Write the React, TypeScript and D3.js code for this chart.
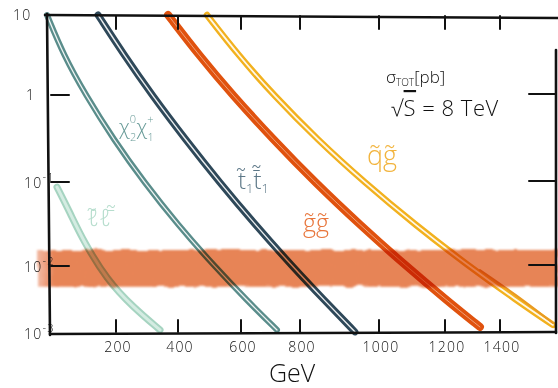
import React from 'react';
import * as d3 from 'd3';

const W = 558;
const H = 388;

// Mass axis (GeV): hand-placed breakpoints of the sketch
const massBreaks = [0, 200, 400, 600, 800, 1000, 1200, 1400, 1600];
const massTicks = [200, 400, 600, 800, 1000, 1200, 1400];

// Cross-section axis (pb), log
const sigmaBreaks = [0.001, 0.01, 0.1, 1, 10];
const sigmaTicks = [1, 0.1, 0.01];

// common cross-section samples (pb) shared by the curves below
const sigmaSteps = [10, 3.16, 1.0, 0.304, 0.1, 0.0308, 0.01, 0.00311];

// chi0_2 chi+_1
const chiMass = [0, 48, 112, 194, 290, 400, 515, 619, 722];
const chiSigma = [...sigmaSteps, 0.00111];

// stop pair
const stopMass = [148, 226, 316, 425, 531, 649, 773, 861, 939];
const stopSigma = [...sigmaSteps, 0.00104];

// gluino pair
const gluinoMass = [368, 466, 573, 711, 837, 952, 1082, 1205, 1327];
const gluinoSigma = [...sigmaSteps, 0.00123];

// squark-gluino
const sqglMass = [492, 591, 710, 845, 962, 1110, 1286, 1458, 1589];
const sqglSigma = [...sigmaSteps, 0.00132];
const sqglUpperMass = [1327, 1454, 1589];
const sqglUpperSigma = [0.00872, 0.00382, 0.00141];

// slepton pair
const slepMass = [29, 67, 104, 174, 255, 342];
const slepSigma = [0.087, 0.0428, 0.0204, 0.00618, 0.00244, 0.00111];

// sensitivity band around 10^-2 pb
const bandSigma = [0.0049, 0.0155];

const FONT = "'Open Sans', 'DejaVu Sans', sans-serif";

type Pt = [number, number];
const zip = (m: number[], s: number[]): Pt[] => m.map((v, i) => [v, s[i]]);

export default function App() {
  const x = d3.scaleLinear().domain(massBreaks).range([47, 116, 178, 241, 300, 379, 445, 500, 556]);
  const y = d3.scaleLog().domain(sigmaBreaks).range([333, 266, 182, 95, 15]);
  const line = d3
    .line<Pt>()
    .x((d) => x(d[0]))
    .y((d) => y(d[1]))
    .curve(d3.curveBasis);

  const double = (pts: Pt[], color: string, w: number, gap: number, gapOpacity = 0.9) => {
    const d = line(pts) || '';
    return (
      <g>
        <path d={d} fill="none" stroke={color} strokeWidth={w} strokeLinecap="round" />
        <path d={d} fill="none" stroke="#fff" strokeWidth={gap} strokeOpacity={gapOpacity} strokeLinecap="round" />
      </g>
    );
  };

  const xl = x(0);
  const xr = x(1600);
  const yt = y(10);
  const yb = y(0.001);

  return (
    <svg width={W} height={H} style={{ position: 'absolute', left: 0, top: 0, background: '#fff' }} fontFamily={FONT}>
      <defs>
        <filter id="rough" x="-5%" y="-40%" width="110%" height="180%">
          <feTurbulence type="fractalNoise" baseFrequency="0.09" numOctaves="2" seed="3" result="n" />
          <feDisplacementMap in="SourceGraphic" in2="n" scale="5" xChannelSelector="R" yChannelSelector="G" result="dm" />
          <feGaussianBlur in="dm" stdDeviation="1.2" />
        </filter>
        <linearGradient id="bandFade" x1="0" x2="1" y1="0" y2="0">
          <stop offset="0" stopColor="#e8825a" stopOpacity="0.55" />
          <stop offset="0.03" stopColor="#e4733f" stopOpacity="0.88" />
          <stop offset="1" stopColor="#e4733f" stopOpacity="0.88" />
        </linearGradient>
      </defs>

      {/* cross-section curves */}
      {(() => {
        const d = line(zip(slepMass, slepSigma)) || '';
        return (
          <g>
            <path d={d} fill="none" stroke="#a6d4c1" strokeWidth={7} strokeLinecap="round" />
            <path d={d} fill="none" stroke="#d4ece2" strokeWidth={3} strokeLinecap="round" />
          </g>
        );
      })()}
      {double(zip(chiMass, chiSigma), '#5a8d8b', 6, 1.3)}
      {double(zip(stopMass, stopSigma), '#2e4859', 7, 1.4)}
      {double(zip(gluinoMass, gluinoSigma), '#e0520e', 8, 1, 0.45)}
      {double(zip(sqglMass, sqglSigma), '#f2b11e', 6.5, 1.8)}
      <path d={line(zip(sqglUpperMass, sqglUpperSigma)) || ''} fill="none" stroke="#e99a22" strokeWidth={2} strokeLinecap="round" />

      {/* band at 10^-2 pb */}
      <rect
        x={38}
        y={y(bandSigma[1])}
        width={W - 38}
        height={y(bandSigma[0]) - y(bandSigma[1])}
        fill="url(#bandFade)"
        filter="url(#rough)"
        style={{ mixBlendMode: 'multiply' }}
      />

      {/* frame */}
      <g stroke="#111" strokeWidth={2.6} strokeLinecap="round" fill="none">
        <line x1={xl - 2} y1={yt} x2={W} y2={yt + 3} />
        <line x1={xl} y1={yt - 1} x2={xl + 3} y2={yb + 2} />
        <line x1={xl + 3} y1={yb + 1} x2={xr} y2={yb - 1} />
        <line x1={xr} y1={50} x2={xr} y2={yb} />
      </g>

      {/* ticks */}
      <g stroke="#111" strokeWidth={2} strokeLinecap="round">
        {sigmaTicks.map((s) => (
          <line key={'l' + s} x1={xl + 4} y1={y(s)} x2={xl + 22} y2={y(s)} />
        ))}
        {sigmaTicks.map((s) => (
          <line key={'r' + s} x1={xr - 27} y1={y(s) - 1} x2={xr} y2={y(s) - 1} />
        ))}
        {massTicks.map((m) => (
          <line key={'t' + m} x1={x(m)} y1={yt + 1} x2={x(m)} y2={yt + 14} />
        ))}
        {massTicks.map((m) => (
          <line key={'b' + m} x1={x(m)} y1={yb - 1} x2={x(m)} y2={yb - 13} />
        ))}
      </g>

      {/* tick labels */}
      <g fill="#111" fontSize={14} fontWeight={300} letterSpacing={1.2}>
        {massTicks.map((m) => (
          <text key={m} x={x(m) + 2} y={352} textAnchor="middle">
            {m}
          </text>
        ))}
        <text x={13} y={yt + 5}>10</text>
        <text x={26} y={y(1) + 5}>1</text>
        {[
          [0.1, '-1'],
          [0.01, '-2'],
          [0.001, '-3'],
        ].map(([s, e]) => (
          <text key={e as string} x={24} y={y(s as number) + 6}>
            10
            <tspan dy={-7} fontSize={11}>
              {e}
            </tspan>
          </text>
        ))}
      </g>
      <text x={292} y={382} textAnchor="middle" fontSize={25} fontWeight={300} fill="#111">
        GeV
      </text>

      {/* annotation */}
      <text x={386} y={83} fontSize={17} fontWeight={300} fill="#111">
        σ<tspan fontSize={10} dy={3}>TOT</tspan>
        <tspan dy={-3}>[pb]</tspan>
      </text>
      <text x={391} y={116} fontSize={22} fontWeight={300} fill="#111" letterSpacing={0.5}>
        √<tspan style={{ textDecoration: 'overline' }}>S</tspan> = 8 TeV
      </text>

      {/* process labels */}
      <text x={119} y={134} fontSize={21} fontWeight={300} fill="#6a9c99">
        χ<tspan fontSize={11} dy={-11}>0</tspan>
        <tspan fontSize={11} dx={-6} dy={18}>2</tspan>
        <tspan fontSize={21} dy={-7}>χ</tspan>
        <tspan fontSize={11} dy={-11}>+</tspan>
        <tspan fontSize={11} dx={-6} dy={18}>1</tspan>
      </text>
      <text x={238} y={189} fontSize={24} fontWeight={300} fill="#5c7787">
        t̃<tspan fontSize={13} dy={4}>1</tspan>
        <tspan dy={-4}>t̄̃</tspan>
        <tspan fontSize={13} dy={4}>1</tspan>
      </text>
      <text x={87} y={226} fontSize={24} fontWeight={300} fill="#b6ddcd">
        ℓ̃ℓ̄̃
      </text>
      <text x={303} y={232} fontSize={25} fontWeight={300} fill="#e8763c">
        g̃g̃
      </text>
      <text x={367} y={165} fontSize={27} fontWeight={300} fill="#f2b43e">
        q̃g̃
      </text>
    </svg>
  );
}
